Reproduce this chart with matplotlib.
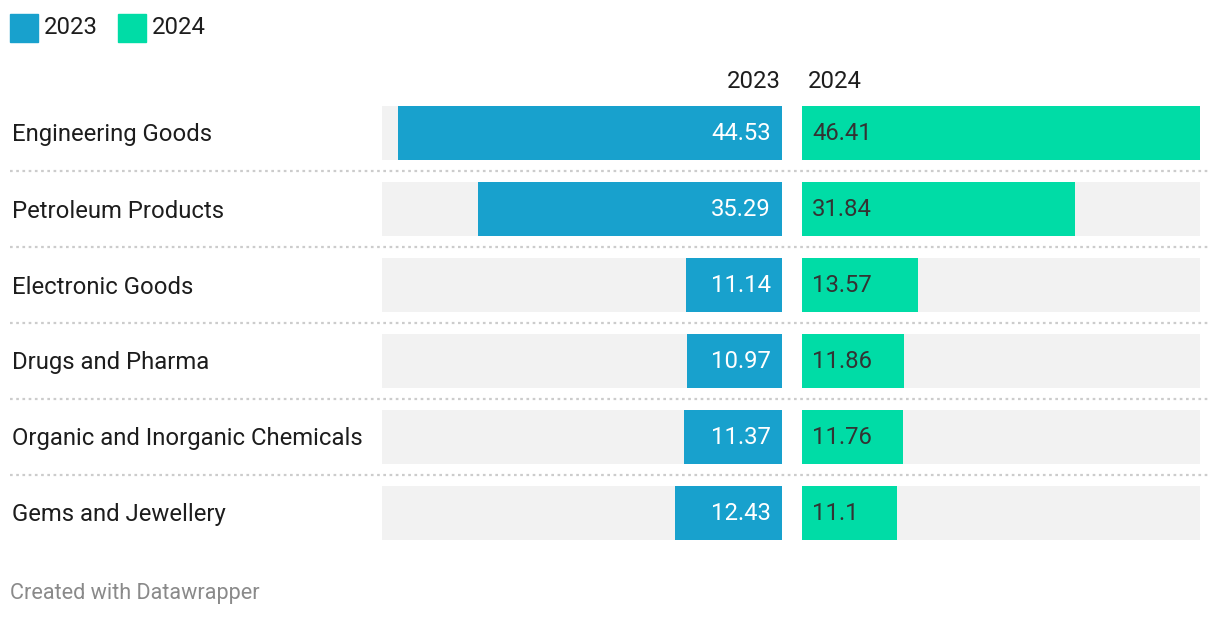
import matplotlib
matplotlib.use("Agg")
import matplotlib.pyplot as plt
from matplotlib.patches import Rectangle

categories = ["Engineering Goods", "Petroleum Products", "Electronic Goods",
              "Drugs and Pharma", "Organic and Inorganic Chemicals", "Gems and Jewellery"]
values_2023 = [44.53, 35.29, 11.14, 10.97, 11.37, 12.43]
values_2024 = [46.41, 31.84, 13.57, 11.86, 11.76, 11.1]
labels_2023 = ["44.53", "35.29", "11.14", "10.97", "11.37", "12.43"]
labels_2024 = ["46.41", "31.84", "13.57", "11.86", "11.76", "11.1"]
series_names = ["2023", "2024"]

C23 = "#18a1cd"
C24 = "#00dca6"
BG = "#f2f2f2"
TXT = "#1d1d1d"

plt.rcParams['font.family'] = ['Roboto', 'DejaVu Sans']

W, H = 1220, 618
fig = plt.figure(figsize=(W / 100, H / 100), dpi=100)
fig.patch.set_facecolor("white")

def fx(x):
    return x / W

def fy(y):
    return 1 - y / H

FS = 17.2
vmax = max(max(values_2023), max(values_2024))
n = len(categories)
top, bottom = 95, 95 + 76 * n
bh = 54 / 76

# separator / label axes spanning full width
ax_bg = fig.add_axes([fx(10), fy(bottom), fx(1208 - 10), (bottom - top) / H])
ax_bg.set_xlim(0, 1198)
ax_bg.set_ylim(n - 0.5, -0.5)
ax_bg.axis("off")
for i in range(n - 1):
    ax_bg.axhline(i + 0.5, color="#cccccc", lw=1.6, ls=(0, (1.2, 1.6)))
for i, c in enumerate(categories):
    ax_bg.annotate(c, (2, i), xytext=(0, -2), textcoords="offset pixels",
                   fontsize=FS, color=TXT, va="center", ha="left")

# left panel 2023
axL = fig.add_axes([fx(382), fy(bottom), fx(400), (bottom - top) / H])
axL.set_xlim(vmax, 0)
axL.set_ylim(n - 0.5, -0.5)
axL.axis("off")
axL.barh(range(n), [vmax] * n, height=bh, color=BG, left=0)
axL.barh(range(n), values_2023, height=bh, color=C23, left=0)
for i, lab in enumerate(labels_2023):
    axL.annotate(lab, (0, i), xytext=(-11, -1), textcoords="offset pixels",
                 ha="right", va="center", fontsize=FS, color="white")

# right panel 2024
axR = fig.add_axes([fx(802), fy(bottom), fx(398), (bottom - top) / H])
axR.set_xlim(0, vmax)
axR.set_ylim(n - 0.5, -0.5)
axR.axis("off")
axR.barh(range(n), [vmax] * n, height=bh, color=BG, left=0)
axR.barh(range(n), values_2024, height=bh, color=C24, left=0)
for i, lab in enumerate(labels_2024):
    axR.annotate(lab, (0, i), xytext=(10, -1), textcoords="offset pixels",
                 ha="left", va="center", fontsize=FS, color="#333333")

# column headers
fig.text(fx(781), fy(82), series_names[0], ha="right", va="center", fontsize=FS, color=TXT)
fig.text(fx(808), fy(82), series_names[1], ha="left", va="center", fontsize=FS, color=TXT)

# legend
for x0, name, col in [(10, series_names[0], C23), (118, series_names[1], C24)]:
    fig.patches.append(Rectangle((fx(x0), fy(42)), fx(28), 28 / H, color=col,
                                 transform=fig.transFigure, figure=fig))
    fig.text(fx(x0 + 34), fy(27.5), name, ha="left", va="center", fontsize=FS, color=TXT)

# footer
fig.text(fx(10), fy(593), "Created with Datawrapper", ha="left", va="center",
         fontsize=15.6, color="#8a8a8a")

fig.savefig("out.png", dpi=100, facecolor="white")
